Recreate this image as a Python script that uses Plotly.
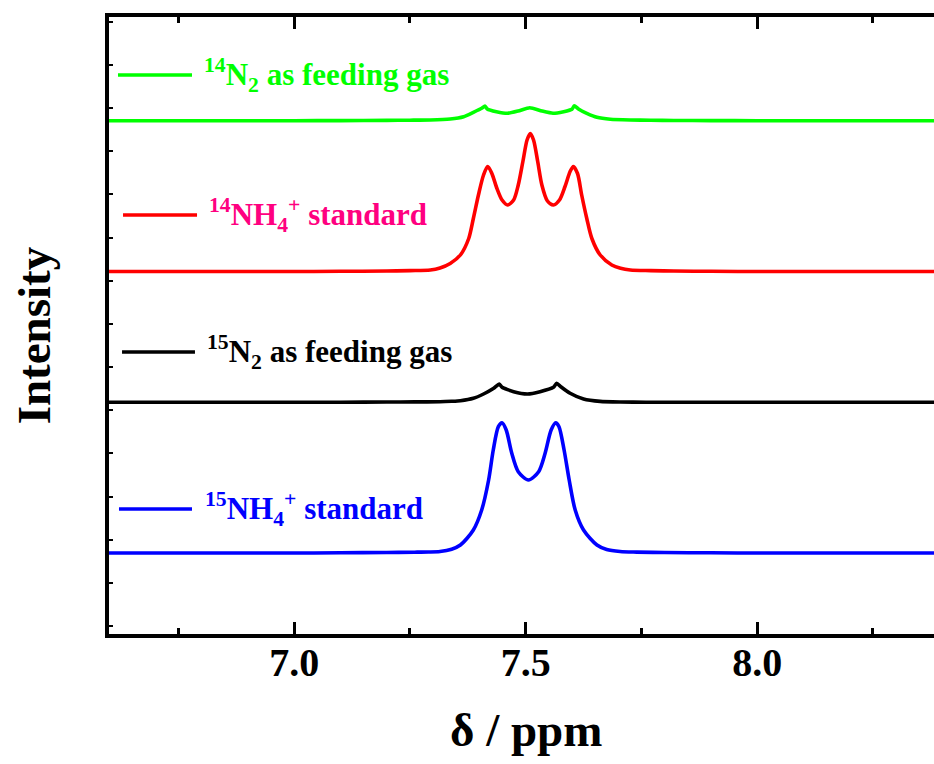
import plotly.graph_objects as go

# ---------------- data ----------------
# chemical shift (ppm) and intensity above each spectrum's baseline (arb. units)
green_ppm = [6.600, 6.800, 7.000, 7.100, 7.200, 7.250, 7.294, 7.337, 7.366, 7.387,
             7.405, 7.412, 7.417, 7.437, 7.461, 7.484, 7.509, 7.535, 7.559, 7.582,
             7.600, 7.605, 7.614, 7.632, 7.654, 7.683, 7.726, 7.770, 7.820, 7.900,
             8.000, 8.200, 8.382]
green_int = [0.0, 0.0, 0.0, 0.1, 0.3, 0.5, 0.7, 1.7, 4.0, 8.4,
             12.4, 14.7, 11.7, 9.0, 7.4, 9.7, 13.0, 9.7, 7.4, 9.0,
             11.4, 15.0, 11.7, 7.4, 3.4, 1.4, 0.7, 0.4, 0.2, 0.1,
             0.0, 0.0, 0.0]

red_ppm = [6.600, 6.800, 7.000, 7.100, 7.200, 7.250, 7.294, 7.315, 7.337, 7.359,
           7.377, 7.387, 7.398, 7.409, 7.418, 7.427, 7.438, 7.449, 7.461, 7.474,
           7.484, 7.494, 7.503, 7.510, 7.517, 7.526, 7.535, 7.547, 7.560, 7.573,
           7.585, 7.596, 7.603, 7.612, 7.621, 7.632, 7.643, 7.661, 7.686, 7.705,
           7.726, 7.770, 7.820, 7.900, 8.000, 8.200, 8.382]
red_int = [0.0, 0.0, 0.0, 0.2, 0.5, 0.9, 1.5, 3.5, 8.0, 16.5,
           33.0, 53.0, 76.5, 96.5, 105.0, 98.0, 83.0, 71.5, 66.5, 71.5,
           86.5, 110.0, 131.5, 138.0, 131.5, 110.0, 86.5, 70.5, 66.5, 71.5,
           85.0, 100.0, 105.0, 98.0, 76.5, 53.0, 33.0, 16.5, 6.5, 3.2,
           1.5, 0.9, 0.5, 0.2, 0.0, 0.0, 0.0]

black_ppm = [6.600, 6.800, 7.000, 7.100, 7.200, 7.260, 7.315, 7.340, 7.359, 7.387,
             7.409, 7.431, 7.443, 7.449, 7.474, 7.504, 7.531, 7.560, 7.567, 7.576,
             7.596, 7.625, 7.661, 7.704, 7.760, 7.850, 8.000, 8.200, 8.382]
black_int = [0.0, 0.0, 0.0, 0.1, 0.3, 0.4, 0.5, 1.0, 1.6, 4.0,
             8.3, 14.0, 18.3, 15.0, 10.6, 8.3, 10.6, 15.0, 19.0, 15.6,
             9.0, 3.3, 0.9, 0.3, 0.1, 0.0, 0.0, 0.0, 0.0]

blue_ppm = [6.600, 6.800, 7.000, 7.100, 7.200, 7.260, 7.290, 7.315, 7.340, 7.359,
            7.387, 7.405, 7.420, 7.430, 7.441, 7.449, 7.458, 7.470, 7.484, 7.506,
            7.528, 7.542, 7.555, 7.565, 7.572, 7.583, 7.594, 7.607, 7.625, 7.654,
            7.675, 7.704, 7.740, 7.800, 7.900, 8.000, 8.200, 8.382]
blue_int = [0.0, 0.0, 0.0, 0.2, 0.5, 0.8, 1.0, 1.5, 3.8, 8.0,
            23.0, 43.0, 73.0, 103.0, 126.3, 130.3, 123.0, 99.7, 81.3, 73.0,
            81.3, 99.7, 123.0, 130.3, 126.3, 103.0, 73.0, 43.0, 23.0, 8.0,
            3.5, 1.5, 0.9, 0.5, 0.2, 0.0, 0.0, 0.0]

# vertical offsets of the stacked spectra (same arb. units)
baselines = [515.3, 364.5, 233.7, 83.0]   # green, red, black, blue

labels = ["<sup>14</sup>N<sub>2</sub> as feeding gas",
          "<sup>14</sup>NH<sub>4</sub><sup>+</sup> standard",
          "<sup>15</sup>N<sub>2</sub> as feeding gas",
          "<sup>15</sup>NH<sub>4</sub><sup>+</sup> standard"]

x_ticks = [7.0, 7.5, 8.0]
x_tick_text = ["7.0", "7.5", "8.0"]
x_minor_ticks = [6.75, 7.25, 7.75, 8.25]

# ---------------- styling ----------------
line_colors = ["#00FF00", "#FF0000", "#000000", "#0000FF"]
text_colors = ["#00FF00", "#FF0080", "#000000", "#0000FF"]
smooth = [0.5, 0.8, 0.5, 0.8]
FONT = "Liberation Serif"

series = [(green_ppm, green_int), (red_ppm, red_int),
          (black_ppm, black_int), (blue_ppm, blue_int)]

fig = go.Figure()
for i, (xs, ys) in enumerate(series):
    fig.add_trace(go.Scatter(
        x=xs, y=[baselines[i] + v for v in ys], mode="lines",
        line=dict(color=line_colors[i], width=3.6, shape="spline", smoothing=smooth[i]),
        name=labels[i], showlegend=False, hoverinfo="skip"))

# legend-like labels (line sample + text), placed in paper coordinates
leg_line_x = [(0.0109, 0.1006), (0.0170, 0.1067), (0.0158, 0.1042), (0.0121, 0.1006)]
leg_y = [0.906, 0.679, 0.457, 0.2026]
leg_text_x = [0.1127, 0.1188, 0.1164, 0.1139]
shapes = []
annotations = []
for i in range(4):
    shapes.append(dict(type="line", xref="paper", yref="paper",
                       x0=leg_line_x[i][0], x1=leg_line_x[i][1], y0=leg_y[i], y1=leg_y[i],
                       line=dict(color=line_colors[i], width=3.6)))
    annotations.append(dict(xref="paper", yref="paper", x=leg_text_x[i], y=leg_y[i],
                            xanchor="left", yanchor="middle", showarrow=False,
                            text=labels[i],
                            font=dict(family=FONT, size=31, color=text_colors[i], weight="bold")))

annotations.append(dict(xref="paper", yref="paper", x=0.5055, y=-0.1556,
                        xanchor="center", yanchor="middle", showarrow=False,
                        text="δ / ppm",
                        font=dict(family=FONT, size=47, color="black", weight="bold")))
annotations.append(dict(xref="paper", yref="paper", x=-0.0905, y=0.4846,
                        xanchor="center", yanchor="middle", showarrow=False,
                        text="Intensity", textangle=-90,
                        font=dict(family=FONT, size=47, color="black", weight="bold")))

fig.update_layout(
    width=934, height=764,
    margin=dict(l=109, r=0, t=17, b=130),
    paper_bgcolor="white", plot_bgcolor="white",
    shapes=shapes, annotations=annotations,
    xaxis=dict(range=[6.6, 8.382], showgrid=False, zeroline=False,
               showline=True, linecolor="black", linewidth=4, mirror="ticks",
               ticks="inside", ticklen=12, tickwidth=3, tickcolor="black",
               tickvals=x_ticks, ticktext=x_tick_text, ticklabelstandoff=-10,
               tickfont=dict(family=FONT, size=40, color="black", weight="bold"),
               minor=dict(ticks="inside", ticklen=6, tickwidth=3, tickcolor="black",
                          tickvals=x_minor_ticks)),
    yaxis=dict(range=[2, 619], showgrid=False, zeroline=False,
               showline=True, linecolor="black", linewidth=4, mirror=False,
               ticks="inside", ticklen=4, tickwidth=2, tickcolor="black",
               tick0=53, dtick=43.17, showticklabels=False),
)

fig.write_html("out.html")
